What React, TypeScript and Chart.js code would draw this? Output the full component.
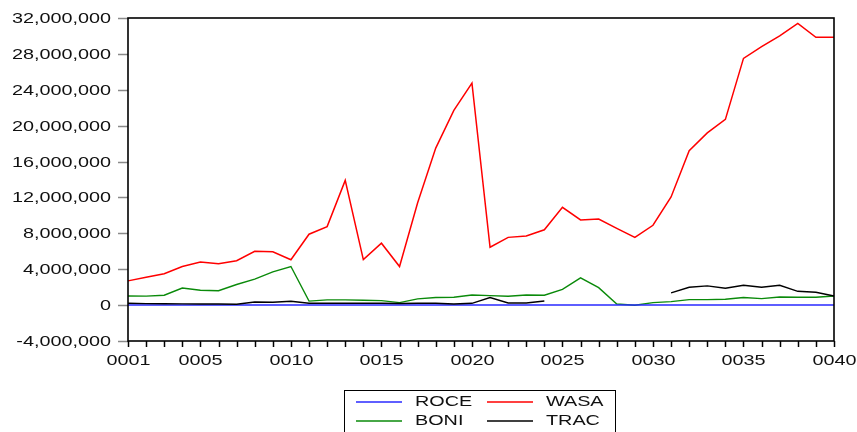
import React, { useEffect, useRef } from "react";
import { Chart, registerables } from "chart.js";

Chart.register(...registerables);

const categories: string[] = [
  "0001","0002","0003","0004","0005","0006","0007","0008","0009","0010",
  "0011","0012","0013","0014","0015","0016","0017","0018","0019","0020",
  "0021","0022","0023","0024","0025","0026","0027","0028","0029","0030",
  "0031","0032","0033","0034","0035","0036","0037","0038","0039","0040",
];

const xTickLabels: string[] = ["0001","0005","0010","0015","0020","0025","0030","0035","0040"];

const roce: number[] = [
  12000, 11000, 10000, 12000, 11000, 10000, 9000, 11000, 12000, 10000,
  9000, 10000, 11000, 10000, 9000, 8000, 9000, 10000, 9000, 10000,
  11000, 10000, 9000, 10000, 9000, 8000, 9000, 8000, 9000, 10000,
  11000, 10000, 9000, 10000, 11000, 10000, 9000, 10000, 11000, 10000,
];

const wasa: number[] = [
  2700000, 3100000, 3500000, 4300000, 4800000, 4600000, 4950000, 6000000, 5950000, 5050000,
  7900000, 8750000, 13900000, 5070000, 6900000, 4300000, 11400000, 17500000, 21700000, 24750000,
  6450000, 7550000, 7700000, 8400000, 10900000, 9500000, 9600000, 8550000, 7550000, 8900000,
  12050000, 17200000, 19200000, 20700000, 27500000, 28800000, 30000000, 31400000, 29850000, 29850000,
];

const boni: number[] = [
  1020000, 1000000, 1100000, 1900000, 1650000, 1600000, 2300000, 2900000, 3700000, 4300000,
  450000, 580000, 580000, 550000, 500000, 280000, 700000, 840000, 870000, 1130000,
  1060000, 980000, 1130000, 1100000, 1760000, 3030000, 1950000, 130000, -20000, 280000,
  390000, 610000, 610000, 650000, 840000, 720000, 910000, 870000, 870000, 1020000,
];

const trac: (number | null)[] = [
  200000, 170000, 150000, 140000, 130000, 120000, 100000, 350000, 320000, 430000,
  200000, 200000, 200000, 200000, 200000, 180000, 200000, 200000, 130000, 200000,
  840000, 240000, 240000, 460000, null, null, null, null, null, null,
  1360000, 1990000, 2140000, 1880000, 2210000, 1990000, 2210000, 1540000, 1430000, 1020000,
];

const yMin = -4000000;
const yMax = 32000000;
const yStep = 4000000;

const FONT = "15px 'Liberation Sans', Arial, sans-serif";
const SX = 1.32;
const TEXT_COLOR = "#111111";

function drawStretched(
  ctx: CanvasRenderingContext2D,
  text: string,
  x: number,
  y: number,
  align: CanvasTextAlign
) {
  ctx.save();
  ctx.translate(x, y);
  ctx.scale(SX, 1);
  ctx.font = FONT;
  ctx.fillStyle = TEXT_COLOR;
  ctx.textAlign = align;
  ctx.textBaseline = "middle";
  ctx.fillText(text, 0, 0);
  ctx.restore();
}

const legendItems = [
  { label: "ROCE", color: "#2a2aff", col: 0, row: 0 },
  { label: "WASA", color: "#ff0000", col: 1, row: 0 },
  { label: "BONI", color: "#0a8a0a", col: 0, row: 1 },
  { label: "TRAC", color: "#000000", col: 1, row: 1 },
];

const axesPlugin = {
  id: "eviewsAxes",
  afterDatasetsDraw(chart: any) {
    const ctx: CanvasRenderingContext2D = chart.ctx;
    const { left, right, top, bottom } = chart.chartArea;
    const xs = chart.scales.x;
    const ys = chart.scales.y;

    ctx.save();
    ctx.strokeStyle = "#8a8a8a";
    ctx.lineWidth = 1.5;
    for (let v = yMin; v <= yMax; v += yStep) {
      const py = Math.round(ys.getPixelForValue(v)) + 0.5;
      ctx.beginPath();
      ctx.moveTo(left - 10, py);
      ctx.lineTo(left, py);
      ctx.stroke();
      drawStretched(ctx, v.toLocaleString("en-US"), left - 17, py, "right");
    }
    ctx.strokeStyle = "#000";
    ctx.lineWidth = 1.5;
    categories.forEach((c, i) => {
      const px = Math.round(xs.getPixelForValue(i)) + 0.5;
      ctx.beginPath();
      ctx.moveTo(px, bottom);
      ctx.lineTo(px, bottom + 6);
      ctx.stroke();
      if (xTickLabels.includes(c)) {
        drawStretched(ctx, c, px, bottom + 20, "center");
      }
    });
    ctx.strokeStyle = "#000";
    ctx.lineWidth = 1.6;
    ctx.strokeRect(left, top, right - left, bottom - top);

    const bx = 344.5;
    const by = 390.5;
    ctx.lineWidth = 1;
    ctx.strokeStyle = "#000";
    ctx.strokeRect(bx, by, 271, 60);
    legendItems.forEach((it) => {
      const lx = it.col === 0 ? 356 : 487;
      const ly = it.row === 0 ? 402 : 421;
      ctx.strokeStyle = it.color;
      ctx.lineWidth = 1.5;
      ctx.beginPath();
      ctx.moveTo(lx, ly);
      ctx.lineTo(lx + 46, ly);
      ctx.stroke();
      drawStretched(ctx, it.label, lx + 59, ly, "left");
    });
    ctx.restore();
  },
};

export default function App() {
  const canvasRef = useRef<HTMLCanvasElement | null>(null);

  useEffect(() => {
    if (!canvasRef.current) return;
    const chart = new Chart(canvasRef.current, {
      type: "line",
      data: {
        labels: categories,
        datasets: [
          { label: "TRAC", data: trac, borderColor: "#000000", borderWidth: 1.4, pointRadius: 0, spanGaps: false, tension: 0 },
          { label: "ROCE", data: roce, borderColor: "#2a2aff", borderWidth: 1.4, pointRadius: 0, tension: 0 },
          { label: "BONI", data: boni, borderColor: "#0a8a0a", borderWidth: 1.4, pointRadius: 0, tension: 0 },
          { label: "WASA", data: wasa, borderColor: "#ff0000", borderWidth: 1.5, pointRadius: 0, tension: 0 },
        ],
      },
      options: {
        responsive: false,
        animation: false,
        devicePixelRatio: 1,
        layout: { padding: { left: 0, right: 23, top: 18, bottom: 0 } },
        plugins: {
          legend: { display: false },
          tooltip: { enabled: false },
        },
        scales: {
          x: {
            type: "category",
            offset: false,
            grid: { display: false },
            border: { display: false },
            ticks: { display: false },
            afterFit: (s: any) => {
              s.height = 91;
            },
          },
          y: {
            min: yMin,
            max: yMax,
            ticks: { display: false, stepSize: yStep },
            grid: { display: false },
            border: { display: false },
            afterFit: (s: any) => {
              s.width = 128;
            },
          },
        },
      },
      plugins: [axesPlugin],
    });
    return () => chart.destroy();
  }, []);

  return (
    <div style={{ position: "absolute", left: 0, top: 0, width: 857, height: 432, background: "#fff" }}>
      <canvas ref={canvasRef} width={857} height={432} style={{ display: "block" }} />
    </div>
  );
}
